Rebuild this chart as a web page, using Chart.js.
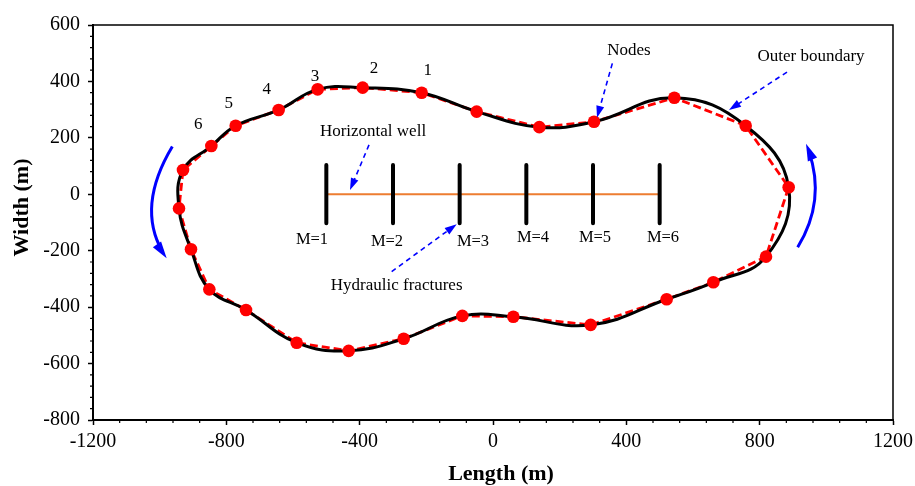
<!DOCTYPE html>
<html><head><meta charset="utf-8">
<script src="https://cdn.jsdelivr.net/npm/chart.js@4.4.1/dist/chart.umd.min.js"></script>
<style>html,body{margin:0;padding:0;background:#fff}#wrap{width:915px;height:486px;position:relative}</style>
</head><body><div id="wrap"><canvas id="c" width="915" height="486"></canvas></div>
<script>
// ---- data (metres) ----
const nodeX = [-214, -391, -526, -643, -772, -845, -930, -942, -906, -851, -741, -589, -433, -268, -92, 61, 293, 521, 661, 819, 887, 758, 544, 303, 139, -49];
const nodeY = [360, 378, 372, 299, 243, 171, 86, -50, -195, -337, -410, -526, -555, -512, -431, -434, -463, -372, -312, -221, 25, 243, 342, 257, 238, 293];
const nodeLabels = ['1', '2', '3', '4', '5', '6'];
const nodeLabelX = [-196, -357, -534, -679, -793, -884];
const nodeLabelY = [438, 444, 419, 370, 321, 247];
const wellX = [-500, 500];
const wellY = [0, 0];
const fractureX = [-500, -300, -100, 100, 300, 500];
const fractureTop = [104, 104, 104, 104, 104, 104];
const fractureBottom = [-103, -103, -103, -103, -103, -103];
const fractureLabels = ['M=1', 'M=2', 'M=3', 'M=4', 'M=5', 'M=6'];
const fractureLabelX = [-543, -318, -60, 120, 306, 510];
const fractureLabelY = [-162, -169, -167, -153, -153, -153];
const xTicks = [-1200, -800, -400, 0, 400, 800, 1200];
const yTicks = [-800, -600, -400, -200, 0, 200, 400, 600];
const annoText = ['Nodes', 'Outer boundary', 'Horizontal well', 'Hydraulic fractures'];
const annoX = [408, 954, -360, -289];
const annoY = [511, 490, 223, -325];
// dashed pointer arrows: from (x0,y0) to tip (x1,y1)
const arrowX0 = [358, 882, -372, -304];
const arrowY0 = [464, 433, 175, -274];
const arrowX1 = [312, 708, -429, -109];
const arrowY1 = [271, 299, 15, -106];
// curved flow arrows: start, through, tip
const flowStartX = [-962, 914], flowStartY = [169, -188];
const flowMidX = [-1024, 966], flowMidY = [-44, -8];
const flowEndX = [-979, 939], flowEndY = [-227, 179];

// ---- build datasets ----
const pts = nodeX.map((x, i) => ({ x: x, y: nodeY[i] }));
const n = pts.length;
const loopPts = [pts[n - 1]].concat(pts, [pts[0], pts[1]]);
const closedPts = pts.concat([pts[0]]);
const lastSeg = loopPts.length - 1;

const datasets = [
  { label: 'Nodes', data: pts, showLine: false, pointRadius: 6.3, pointHoverRadius: 6.3,
    pointBackgroundColor: '#FF0000', pointBorderWidth: 0, pointBorderColor: '#FF0000' },
  { label: 'Outer boundary', data: loopPts, showLine: true, tension: 0.42, borderColor: '#000',
    borderWidth: 3, pointRadius: 0, fill: false,
    segment: { borderColor: c => (c.p0DataIndex === 0 || c.p1DataIndex === lastSeg) ? 'rgba(0,0,0,0)' : undefined } },
  { label: 'Polygon', data: closedPts, showLine: true, tension: 0, borderColor: '#FF0000',
    borderWidth: 2.8, borderDash: [8, 4], pointRadius: 0, fill: false }
];
fractureX.forEach((fx, i) => {
  datasets.push({ label: fractureLabels[i], data: [{ x: fx, y: fractureTop[i] }, { x: fx, y: fractureBottom[i] }],
    showLine: true, borderColor: '#000', borderWidth: 4, pointRadius: 0, borderCapStyle: 'round' });
});
datasets.push({ label: 'Horizontal well', data: wellX.map((x, i) => ({ x: x, y: wellY[i] })),
  showLine: true, borderColor: '#ED7D31', borderWidth: 2, pointRadius: 0 });

const FONT = 'Liberation Serif, Times New Roman, serif';

function arrowHead(ctx, x, y, ang, len, wid) {
  ctx.beginPath();
  ctx.moveTo(x, y);
  ctx.lineTo(x - len * Math.cos(ang) + wid / 2 * Math.sin(ang), y - len * Math.sin(ang) - wid / 2 * Math.cos(ang));
  ctx.lineTo(x - len * Math.cos(ang) - wid / 2 * Math.sin(ang), y - len * Math.sin(ang) + wid / 2 * Math.cos(ang));
  ctx.closePath();
  ctx.fill();
}

const decor = {
  id: 'decor',
  afterDraw(chart) {
    const ctx = chart.ctx, xs = chart.scales.x, ys = chart.scales.y, a = chart.chartArea;
    ctx.save();
    // frame top/right
    ctx.strokeStyle = '#000';
    ctx.lineWidth = 1.5;
    ctx.beginPath();
    ctx.moveTo(a.left, a.top); ctx.lineTo(a.right, a.top); ctx.lineTo(a.right, a.bottom);
    ctx.stroke();
    // minor ticks
    ctx.lineWidth = 1.2;
    ctx.beginPath();
    for (let v = -1200; v <= 1200; v += 80) {
      if (v % 400 === 0) continue;
      const px = xs.getPixelForValue(v);
      ctx.moveTo(px, a.bottom); ctx.lineTo(px, a.bottom + 3);
    }
    for (let v = -800; v <= 600; v += 40) {
      if (v % 200 === 0) continue;
      const py = ys.getPixelForValue(v);
      ctx.moveTo(a.left, py); ctx.lineTo(a.left - 3, py);
    }
    ctx.stroke();
    // texts
    ctx.fillStyle = '#000';
    ctx.textAlign = 'center';
    ctx.textBaseline = 'middle';
    ctx.font = '17px ' + FONT;
    nodeLabels.forEach((t, i) => ctx.fillText(t, xs.getPixelForValue(nodeLabelX[i]), ys.getPixelForValue(nodeLabelY[i])));
    ctx.font = '16.5px ' + FONT;
    fractureLabels.forEach((t, i) => ctx.fillText(t, xs.getPixelForValue(fractureLabelX[i]), ys.getPixelForValue(fractureLabelY[i])));
    ctx.font = '17px ' + FONT;
    annoText.forEach((t, i) => ctx.fillText(t, xs.getPixelForValue(annoX[i]), ys.getPixelForValue(annoY[i])));
    // axis titles
    ctx.font = 'bold 22px ' + FONT;
    ctx.fillText('Length (m)', (a.left + a.right) / 2 + 8, a.bottom + 54);
    ctx.save();
    ctx.translate(22, (a.top + a.bottom) / 2 - 15);
    ctx.rotate(-Math.PI / 2);
    ctx.fillText('Width (m)', 0, 0);
    ctx.restore();
    // dashed pointer arrows
    ctx.strokeStyle = '#0000FF';
    ctx.fillStyle = '#0000FF';
    ctx.lineWidth = 1.6;
    arrowX0.forEach((x0, i) => {
      const p0x = xs.getPixelForValue(x0), p0y = ys.getPixelForValue(arrowY0[i]);
      const p1x = xs.getPixelForValue(arrowX1[i]), p1y = ys.getPixelForValue(arrowY1[i]);
      const ang = Math.atan2(p1y - p0y, p1x - p0x);
      const hl = 12;
      ctx.setLineDash([5, 4]);
      ctx.beginPath();
      ctx.moveTo(p0x, p0y);
      ctx.lineTo(p1x - hl * 0.8 * Math.cos(ang), p1y - hl * 0.8 * Math.sin(ang));
      ctx.stroke();
      ctx.setLineDash([]);
      arrowHead(ctx, p1x, p1y, ang, hl, 8);
    });
    // curved flow arrows
    ctx.lineWidth = 3;
    flowStartX.forEach((sx, i) => {
      const s = { x: xs.getPixelForValue(sx), y: ys.getPixelForValue(flowStartY[i]) };
      const m = { x: xs.getPixelForValue(flowMidX[i]), y: ys.getPixelForValue(flowMidY[i]) };
      const e = { x: xs.getPixelForValue(flowEndX[i]), y: ys.getPixelForValue(flowEndY[i]) };
      const c = { x: 2 * m.x - (s.x + e.x) / 2, y: 2 * m.y - (s.y + e.y) / 2 };
      const ang = Math.atan2(e.y - c.y, e.x - c.x);
      const hl = 17;
      const t = 0.93;
      const ex = (1 - t) * (1 - t) * s.x + 2 * (1 - t) * t * c.x + t * t * e.x;
      const ey = (1 - t) * (1 - t) * s.y + 2 * (1 - t) * t * c.y + t * t * e.y;
      const c2x = (1 - t) * s.x + t * c.x, c2y = (1 - t) * s.y + t * c.y;
      ctx.beginPath();
      ctx.moveTo(s.x, s.y);
      ctx.quadraticCurveTo(c2x, c2y, ex, ey);
      ctx.stroke();
      arrowHead(ctx, e.x, e.y, ang, hl, 10);
    });
    ctx.restore();
  }
};

new Chart(document.getElementById('c'), {
  type: 'scatter',
  data: { datasets: datasets },
  options: {
    responsive: false,
    animation: false,
    layout: { padding: { left: 0, right: 22, top: 25, bottom: 0 } },
    plugins: { legend: { display: false }, tooltip: { enabled: false } },
    scales: {
      x: {
        type: 'linear', min: -1200, max: 1200,
        afterBuildTicks: s => { s.ticks = xTicks.map(v => ({ value: v })); },
        ticks: { color: '#000', font: { family: FONT, size: 20 }, padding: 5, maxRotation: 0, autoSkip: false,
          callback: v => String(v) },
        grid: { drawOnChartArea: false, drawTicks: true, tickLength: 5, tickColor: '#000', tickWidth: 1.5 },
        border: { display: true, color: '#000', width: 2 },
        afterFit: s => { s.height = 66; s.paddingLeft = 0; s.paddingRight = 0; }
      },
      y: {
        type: 'linear', min: -800, max: 600,
        afterBuildTicks: s => { s.ticks = yTicks.map(v => ({ value: v })); },
        ticks: { color: '#000', font: { family: FONT, size: 20 }, padding: 8, autoSkip: false,
          callback: v => String(v) },
        grid: { drawOnChartArea: false, drawTicks: true, tickLength: 5, tickColor: '#000', tickWidth: 1.5 },
        border: { display: true, color: '#000', width: 2 },
        afterFit: s => { s.width = 93; s.paddingTop = 0; s.paddingBottom = 0; }
      }
    }
  },
  plugins: [decor]
});
</script>
</body></html>
